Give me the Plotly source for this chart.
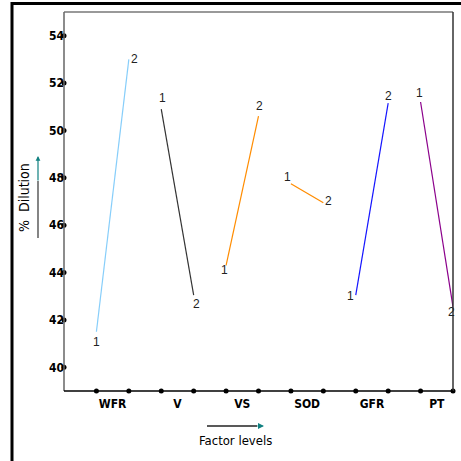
import plotly.graph_objects as go

# ---- data ----
factors = ["WFR", "V", "VS", "SOD", "GFR", "PT"]
level1 = [41.5, 50.9, 44.3, 47.75, 43.05, 51.2]
level2 = [53.0, 43.05, 50.6, 46.95, 51.15, 42.55]
colors = ["#87CEFA", "#333333", "#FF8C00", "#FF8C00", "#1414FF", "#8B008B"]
y_ticks = [40, 42, 44, 46, 48, 50, 52, 54]
x_dot_ticks = list(range(1, 13))
# label offsets (px) for "1" and "2" near line ends
off1 = [(0, -10), (1, 11), (-2, -5), (-3, 7), (-5, -1), (-1, 9)]
off2 = [(6, 0), (3, -9), (1, 10), (5, 2), (0, 7), (-2, -5)]

W, H = 461, 461
L, R, T, B = 64, 8, 12, 70
PW, PH = W - L - R, H - T - B


def fx(x):
    return (x - L) / PW


def fy(y):
    return (H - B - y) / PH


FONT = "DejaVu Sans Condensed, Liberation Sans Narrow, Arial Narrow, Liberation Sans"

fig = go.Figure()
annotations = []
for i, f in enumerate(factors):
    xs = [2 * i + 1, 2 * i + 2]
    ys = [level1[i], level2[i]]
    fig.add_trace(go.Scatter(x=xs, y=ys, mode="lines",
                             line=dict(color=colors[i], width=1.2),
                             showlegend=False, hoverinfo="skip"))
    for lab, xv, yv, off in (("1", xs[0], ys[0], off1[i]), ("2", xs[1], ys[1], off2[i])):
        annotations.append(dict(x=xv, y=yv, xref="x", yref="y", text=lab,
                                showarrow=False, xshift=off[0], yshift=off[1],
                                font=dict(family="Liberation Sans, Arial", size=12, color="#222")))

# tick dots on axes
fig.add_trace(go.Scatter(x=x_dot_ticks, y=[39] * len(x_dot_ticks), mode="markers",
                         marker=dict(color="black", size=5), cliponaxis=False,
                         showlegend=False, hoverinfo="skip"))
fig.add_trace(go.Scatter(x=[0] * len(y_ticks), y=y_ticks, mode="markers",
                         marker=dict(color="black", size=5), cliponaxis=False,
                         showlegend=False, hoverinfo="skip"))

shapes = [
    # outer frame (left + top)
    dict(type="line", xref="paper", yref="paper", x0=fx(12), x1=fx(12), y0=fy(2), y1=fy(461),
         line=dict(color="black", width=3)),
    dict(type="line", xref="paper", yref="paper", x0=fx(11), x1=fx(461), y0=fy(3.5), y1=fy(3.5),
         line=dict(color="black", width=3)),
    # plot frame
    dict(type="line", xref="paper", yref="paper", x0=0, x1=1, y0=1, y1=1,
         line=dict(color="#777777", width=1.5)),
    dict(type="line", xref="paper", yref="paper", x0=1, x1=1, y0=0, y1=1,
         line=dict(color="#333333", width=1.5)),
    dict(type="line", xref="paper", yref="paper", x0=0, x1=0, y0=0, y1=1,
         line=dict(color="#666666", width=1.5)),
    dict(type="line", xref="paper", yref="paper", x0=0, x1=1, y0=0, y1=0,
         line=dict(color="black", width=1.5)),
    # y title arrow shaft (dark part)
    dict(type="line", xref="paper", yref="paper", x0=fx(38), x1=fx(38), y0=fy(238), y1=fy(181),
         line=dict(color="#333333", width=1.2)),
    # x title arrow shaft (dark part)
    dict(type="line", xref="paper", yref="paper", x0=fx(207), x1=fx(257), y0=fy(426), y1=fy(426),
         line=dict(color="#222222", width=1.5)),
]

annotations += [
    dict(xref="paper", yref="paper", x=fx(38), y=fy(156), ax=0, ay=26,
         axref="pixel", ayref="pixel", showarrow=True, arrowhead=2, arrowsize=0.8,
         arrowwidth=1.2, arrowcolor="#108080", text=""),
    dict(xref="paper", yref="paper", x=fx(264), y=fy(426), ax=-8, ay=0,
         axref="pixel", ayref="pixel", showarrow=True, arrowhead=2, arrowsize=0.8,
         arrowwidth=1.5, arrowcolor="#108080", text=""),
    dict(xref="paper", yref="paper", x=fx(24), y=fy(198), text="%  Dilution", textangle=-90,
         xanchor="center", yanchor="middle",
         showarrow=False, font=dict(family=FONT, size=14, color="black")),
    dict(xref="paper", yref="paper", x=fx(235), y=fy(440), text="Factor levels",
         xanchor="center", yanchor="middle",
         showarrow=False, font=dict(family=FONT, size=13, color="black")),
]

fig.update_layout(
    width=W, height=H,
    margin=dict(l=L, r=R, t=T, b=B),
    paper_bgcolor="white", plot_bgcolor="white",
    shapes=shapes, annotations=annotations,
    xaxis=dict(range=[0, 12], tickvals=[1.5, 3.5, 5.5, 7.5, 9.5, 11.5], ticktext=factors,
               showgrid=False, zeroline=False, showline=False, ticks="", ticklabelstandoff=4,
               tickfont=dict(family=FONT, size=12, color="black", weight="bold")),
    yaxis=dict(range=[39, 55], tickvals=y_ticks, showgrid=False, zeroline=False,
               showline=False, ticks="", ticklabelstandoff=-1,
               tickfont=dict(family=FONT, size=12, color="black", weight="bold")),
)

fig.write_html("out.html")
